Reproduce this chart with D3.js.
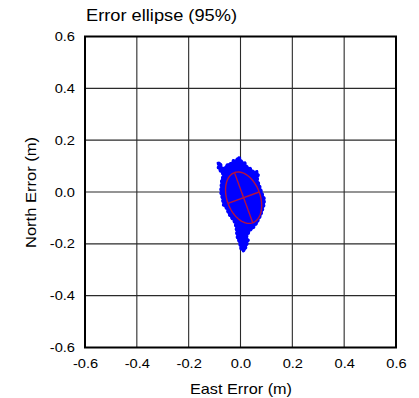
<!DOCTYPE html>
<html>
<head>
<meta charset="utf-8">
<script src="https://cdn.jsdelivr.net/npm/d3@7/dist/d3.min.js"></script>
<style>
  html, body { margin: 0; padding: 0; background: #fff; }
  svg { display: block; font-family: "Liberation Sans", Arial, sans-serif; }
</style>
</head>
<body>
<svg id="chart" width="419" height="398"></svg>
<script>
// Axis ticks (metres)
const eastTicks = [-0.6, -0.4, -0.2, 0.0, 0.2, 0.4, 0.6];
const northTicks = [-0.6, -0.4, -0.2, 0.0, 0.2, 0.4, 0.6];

// Outline of the cloud of position errors (east, north), metres
const cloudEast = [-0.086, -0.079, -0.073, -0.064, -0.056, -0.047, -0.034, -0.028, -0.015, -0.009,
  -0.002, 0.005, 0.017, 0.024, 0.037, 0.049, 0.063, 0.069, 0.065, 0.073,
  0.079, 0.086, 0.093, 0.091, 0.085, 0.079, 0.069, 0.063, 0.056, 0.049,
  0.037, 0.030, 0.024, 0.030, 0.024, 0.017, 0.009, 0.001, -0.005, -0.012,
  -0.015, -0.017, -0.021, -0.028, -0.038, -0.047, -0.054, -0.066, -0.071, -0.077,
  -0.075, -0.073, -0.066, -0.076, -0.086];
const cloudNorth = [0.111, 0.113, 0.098, 0.085, 0.101, 0.108, 0.111, 0.121, 0.124, 0.134,
  0.130, 0.117, 0.113, 0.098, 0.092, 0.079, 0.079, 0.066, 0.046, 0.027,
  0.008, -0.012, -0.027, -0.050, -0.070, -0.089, -0.108, -0.121, -0.128, -0.140,
  -0.147, -0.160, -0.173, -0.186, -0.205, -0.224, -0.228, -0.218, -0.192, -0.179,
  -0.160, -0.140, -0.121, -0.108, -0.096, -0.082, -0.063, -0.050, -0.023, 0.000,
  0.023, 0.046, 0.066, 0.079, 0.092];

// 95% error ellipse: centre, semi-axes (m) and azimuth of the major axis (deg from north)
const ellipseCenter = [0.012, -0.022];
const ellipseSemiMajor = 0.103;
const ellipseSemiMinor = 0.064;
const ellipseAzimuth = -20;

const svg = d3.select("#chart");
const plotLeft = 85, plotRight = 396, plotTop = 36.5, plotBottom = 347.5;

const x = d3.scaleLinear().domain([-0.6, 0.6]).range([plotLeft, plotRight]);
const y = d3.scaleLinear().domain([-0.6, 0.6]).range([plotBottom, plotTop]);

// Grid
const grid = svg.append("g").attr("stroke", "#2a2a2a").attr("stroke-width", 1.1);
grid.selectAll("line.v").data(eastTicks.slice(1, -1)).join("line")
  .attr("class", "v")
  .attr("x1", d => x(d)).attr("x2", d => x(d)).attr("y1", plotTop).attr("y2", plotBottom);
grid.selectAll("line.h").data(northTicks.slice(1, -1)).join("line")
  .attr("class", "h")
  .attr("y1", d => y(d)).attr("y2", d => y(d)).attr("x1", plotLeft).attr("x2", plotRight);

// Error cloud: filled outline plus a dotted rim for the ragged edge of the samples
const cloud = cloudEast.map((e, i) => [x(e), y(cloudNorth[i])]);
const cloudPath = d3.line().curve(d3.curveLinearClosed)(cloud);
svg.append("path")
  .attr("d", cloudPath)
  .attr("fill", "#0000ff")
  .attr("stroke", "#0000ff")
  .attr("stroke-width", 1.5)
  .attr("stroke-linejoin", "round");
svg.append("path")
  .attr("d", cloudPath)
  .attr("fill", "none")
  .attr("stroke", "#0000ff")
  .attr("stroke-width", 3)
  .attr("stroke-linecap", "round")
  .attr("stroke-dasharray", "0.5 3.5");

// Ellipse
const az = ellipseAzimuth * Math.PI / 180;
const u = [Math.sin(az), Math.cos(az)];        // major axis direction (east, north)
const v = [Math.cos(az), -Math.sin(az)];       // minor axis direction
const ts = d3.range(0, 361, 4).map(t => t * Math.PI / 180);
const ellPts = ts.map(t => {
  const a = ellipseSemiMajor * Math.cos(t), b = ellipseSemiMinor * Math.sin(t);
  return [x(ellipseCenter[0] + a * u[0] + b * v[0]), y(ellipseCenter[1] + a * u[1] + b * v[1])];
});
const red = "#b5123e";
svg.append("path")
  .attr("d", d3.line()(ellPts))
  .attr("fill", "none").attr("stroke", red).attr("stroke-width", 1.4);
const axisEnds = [
  [[ellipseCenter[0] - ellipseSemiMajor * u[0], ellipseCenter[1] - ellipseSemiMajor * u[1]],
   [ellipseCenter[0] + ellipseSemiMajor * u[0], ellipseCenter[1] + ellipseSemiMajor * u[1]]],
  [[ellipseCenter[0] - ellipseSemiMinor * v[0], ellipseCenter[1] - ellipseSemiMinor * v[1]],
   [ellipseCenter[0] + ellipseSemiMinor * v[0], ellipseCenter[1] + ellipseSemiMinor * v[1]]]
];
svg.selectAll("line.ax").data(axisEnds).join("line")
  .attr("class", "ax")
  .attr("x1", d => x(d[0][0])).attr("y1", d => y(d[0][1]))
  .attr("x2", d => x(d[1][0])).attr("y2", d => y(d[1][1]))
  .attr("stroke", red).attr("stroke-width", 1.4);

// Frame
svg.append("rect")
  .attr("x", plotLeft).attr("y", plotTop)
  .attr("width", plotRight - plotLeft).attr("height", plotBottom - plotTop)
  .attr("fill", "none").attr("stroke", "#000").attr("stroke-width", 2);

// Tick labels (plain hyphen for negatives)
const locale = d3.formatLocale({ decimal: ".", thousands: ",", grouping: [3], currency: ["", ""], minus: "-" });
const fmt = locale.format(".1f");
const xAxis = d3.axisBottom(x).tickValues(eastTicks).tickFormat(fmt).tickSize(0).tickPadding(11.5);
const xg = svg.append("g").attr("transform", `translate(0,${plotBottom})`).call(xAxis);
const yAxis = d3.axisLeft(y).tickValues(northTicks).tickFormat(fmt).tickSize(0).tickPadding(10);
const yg = svg.append("g").attr("transform", `translate(${plotLeft},0)`).call(yAxis);
[xg, yg].forEach(g => {
  g.select(".domain").remove();
  g.attr("font-size", null).attr("font-family", null);
  g.selectAll("text")
    .attr("font-size", 12.5).attr("fill", "#000")
    .each(function () {
      const w = this.getComputedTextLength();
      d3.select(this).attr("textLength", w * 1.17).attr("lengthAdjust", "spacingAndGlyphs");
    });
});

svg.append("text")
  .attr("x", plotLeft + 1).attr("y", 21)
  .attr("font-size", 16.5).attr("fill", "#000")
  .attr("textLength", 151).attr("lengthAdjust", "spacingAndGlyphs")
  .text("Error ellipse (95%)");

svg.append("text")
  .attr("x", 241).attr("y", 394)
  .attr("text-anchor", "middle").attr("font-size", 15).attr("fill", "#000")
  .attr("textLength", 102).attr("lengthAdjust", "spacingAndGlyphs")
  .text("East Error (m)");

svg.append("text")
  .attr("transform", "translate(36,192.5) rotate(-90)")
  .attr("text-anchor", "middle").attr("font-size", 15).attr("fill", "#000")
  .attr("textLength", 111).attr("lengthAdjust", "spacingAndGlyphs")
  .text("North Error (m)");
</script>
</body>
</html>
